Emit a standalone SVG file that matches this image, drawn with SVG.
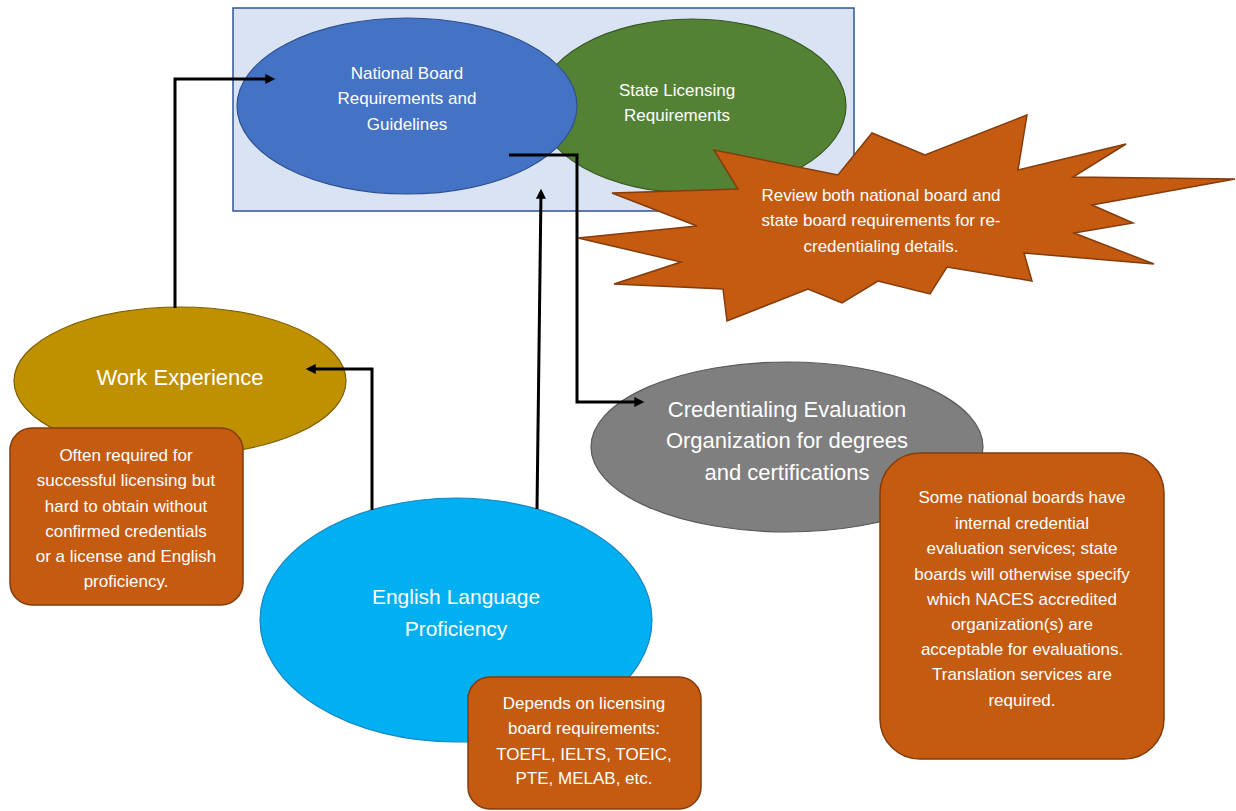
<svg xmlns="http://www.w3.org/2000/svg" width="1236" height="811" viewBox="0 0 1236 811">
<style>
.lbl{font-family:"Liberation Sans",Arial,sans-serif;fill:#ffffff;text-anchor:middle}
.sm{font-size:17px}
.big{font-size:22px}
.note{fill:#C55A11;stroke:#843C0C;stroke-width:1.5}
.conn{fill:none;stroke:#000;stroke-width:3}
</style>
<defs>
<marker id="ah" viewBox="0 0 10 10" refX="6.7" refY="5" markerWidth="12" markerHeight="10" markerUnits="userSpaceOnUse" orient="auto">
<path d="M0,0 L10,5 L0,10 z" fill="#000"/>
</marker>
</defs>
<rect width="1236" height="811" fill="#fff"/>
<g id="requirements-frame">
<rect x="233" y="8" width="621" height="203" fill="#DAE3F3" stroke="#2F5597" stroke-width="1.5"/>
</g>
<g id="state-licensing">
<ellipse cx="692" cy="106" rx="154" ry="87" fill="#548235" stroke="#385723" stroke-width="1.2"/>
<text class="lbl sm" x="677" y="96">State Licensing</text>
<text class="lbl sm" x="677" y="121">Requirements</text>
</g>
<g id="national-board">
<ellipse cx="407" cy="106" rx="170" ry="88" fill="#4472C4" stroke="#2F528F" stroke-width="1.2"/>
<text class="lbl sm" x="407" y="79">National Board</text>
<text class="lbl sm" x="407" y="104">Requirements and</text>
<text class="lbl sm" x="407" y="130">Guidelines</text>
</g>
<g id="review-burst">
<polygon points="578,238 697,226 612,193 738,189 714,150 838,175 872,133 925,155 1027,115 1018,170 1126,144 1073,177 1235,179 1092,205 1133,223 1074,233 1154,264 1024,253 1032,281 947,267 930,294 878,281 842,303 808,289 727,321 723,289 614,284 681,262" fill="#C55A11" stroke="#843C0C" stroke-width="1.5" stroke-linejoin="miter"/>
<text class="lbl sm" x="881" y="201">Review both national board and</text>
<text class="lbl sm" x="881" y="226">state board requirements for re-</text>
<text class="lbl sm" x="881" y="252">credentialing details.</text>
</g>
<g id="work-experience">
<ellipse cx="180" cy="381" rx="166" ry="74" fill="#BF9000" stroke="#7F6000" stroke-width="1.2"/>
<text class="lbl big" x="180" y="385">Work Experience</text>
</g>
<g id="credentialing-evaluation">
<ellipse cx="787" cy="447" rx="196" ry="85" fill="#7F7F7F" stroke="#595959" stroke-width="1.2"/>
<text class="lbl big" x="787" y="417">Credentialing Evaluation</text>
<text class="lbl big" x="787" y="448">Organization for degrees</text>
<text class="lbl big" x="787" y="480">and certifications</text>
</g>
<g id="english-proficiency">
<ellipse cx="456" cy="620" rx="196" ry="122" fill="#00B0F0" stroke="#1A86C8" stroke-width="1.2"/>
<text class="lbl big" x="456" y="604" style="font-size:21px">English Language</text>
<text class="lbl big" x="456" y="636" style="font-size:21px">Proficiency</text>
</g>
<g id="work-note">
<rect class="note" x="10" y="428" width="233" height="177" rx="22"/>
<text class="lbl sm" x="126" y="461">Often required for</text>
<text class="lbl sm" x="126" y="486">successful licensing but</text>
<text class="lbl sm" x="126" y="512">hard to obtain without</text>
<text class="lbl sm" x="126" y="537">confirmed credentials</text>
<text class="lbl sm" x="126" y="562">or a license and English</text>
<text class="lbl sm" x="126" y="587">proficiency.</text>
</g>
<g id="english-note">
<rect class="note" x="468" y="677" width="233" height="132" rx="22"/>
<text class="lbl sm" x="584" y="709">Depends on licensing</text>
<text class="lbl sm" x="584" y="734">board requirements:</text>
<text class="lbl sm" x="584" y="760">TOEFL, IELTS, TOEIC,</text>
<text class="lbl sm" x="584" y="784">PTE, MELAB, etc.</text>
</g>
<g id="credentialing-note">
<rect class="note" x="880" y="453" width="284" height="306" rx="40"/>
<text class="lbl sm" x="1022" y="503">Some national boards have</text>
<text class="lbl sm" x="1022" y="529">internal credential</text>
<text class="lbl sm" x="1022" y="554">evaluation services; state</text>
<text class="lbl sm" x="1022" y="580">boards will otherwise specify</text>
<text class="lbl sm" x="1022" y="605">which NACES accredited</text>
<text class="lbl sm" x="1022" y="630">organization(s) are</text>
<text class="lbl sm" x="1022" y="655">acceptable for evaluations.</text>
<text class="lbl sm" x="1022" y="680">Translation services are</text>
<text class="lbl sm" x="1022" y="706">required.</text>
</g>
<g id="connectors">
<path class="conn" d="M175,308 V79 H272" marker-end="url(#ah)"/>
<path class="conn" d="M372,510 V369 H309" marker-end="url(#ah)"/>
<path class="conn" d="M537,509 L541,192" marker-end="url(#ah)"/>
<path class="conn" d="M509,155 H577 V402 H641" marker-end="url(#ah)"/>
</g>
</svg>
